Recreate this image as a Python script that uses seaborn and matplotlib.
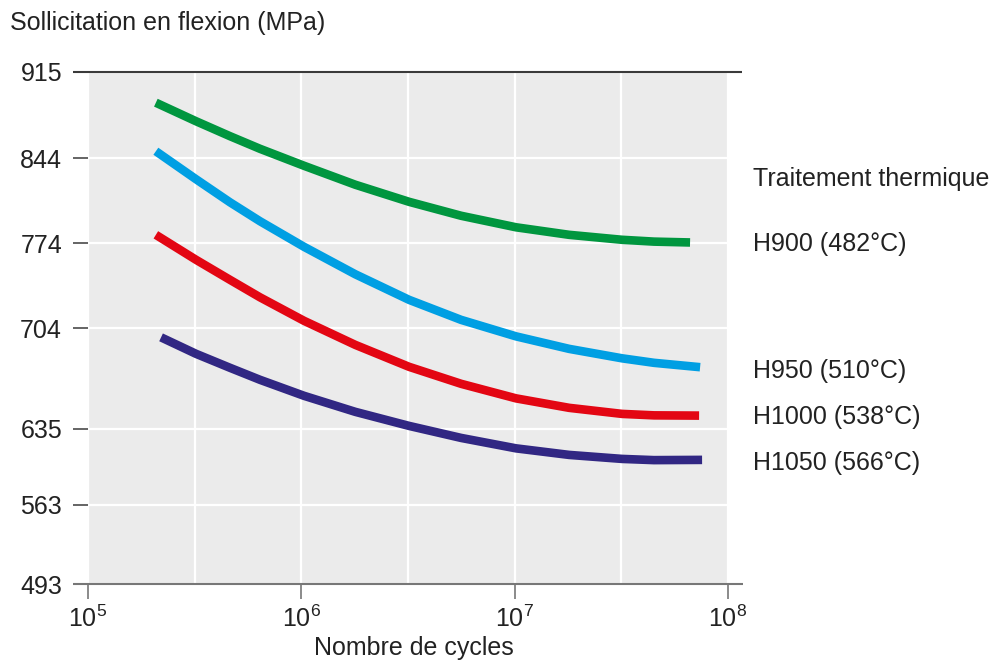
import matplotlib
matplotlib.use("Agg")
import matplotlib.pyplot as plt
import numpy as np
import pandas as pd
import seaborn as sns
from matplotlib.ticker import FixedLocator, FixedFormatter

# ---------------- data ----------------
treatments = ["H900 (482°C)", "H950 (510°C)", "H1000 (538°C)", "H1050 (566°C)"]
colors = ["#00963f", "#009fe3", "#e30613", "#312783"]

cycles_h900 = [2.08e5, 3.21e5, 4.63e5, 6.4e5, 1.03e6, 1.79e6, 3.2e6, 5.61e6,
               1.015e7, 1.8e7, 3.19e7, 4.5e7, 6.64e7]
mpa_h900 = [889.7, 874.4, 862.1, 851.7, 837.7, 822.1, 808.0, 796.5,
            787.0, 780.8, 776.7, 775.2, 774.5]

cycles_h950 = [2.08e5, 3.21e5, 4.63e5, 6.4e5, 1.03e6, 1.79e6, 3.2e6, 5.61e6,
               1.015e7, 1.8e7, 3.19e7, 4.5e7, 7.4e7]
mpa_h950 = [849.7, 826.6, 807.6, 792.0, 770.9, 748.3, 727.2, 710.7,
            697.1, 686.8, 679.0, 675.3, 671.7]

cycles_h1000 = [2.08e5, 3.21e5, 4.63e5, 6.4e5, 1.03e6, 1.79e6, 3.2e6, 5.61e6,
                1.015e7, 1.8e7, 3.19e7, 4.5e7, 7.32e7]
mpa_h1000 = [780.8, 760.2, 743.7, 729.3, 709.9, 690.1, 672.0, 658.0,
             646.0, 638.2, 633.2, 632.0, 631.8]

cycles_h1050 = [2.2e5, 3.21e5, 4.63e5, 6.4e5, 1.03e6, 1.79e6, 3.2e6, 5.61e6,
                1.015e7, 1.8e7, 3.19e7, 4.5e7, 7.56e7]
mpa_h1050 = [696.3, 682.7, 671.2, 661.3, 648.1, 634.9, 623.3, 613.4,
             604.8, 599.4, 596.1, 595.1, 595.3]

ytick_labels = ["915", "844", "774", "704", "635", "563", "493"]
ytick_pos = [915, 844, 774, 704, 620.8, 558.2, 493]   # as placed on the reference axis
xtick_vals = [1e5, 1e6, 1e7, 1e8]
xtick_labels = [r"$\mathregular{10^{5}}$", r"$\mathregular{10^{6}}$",
                r"$\mathregular{10^{7}}$", r"$\mathregular{10^{8}}$"]
xminor_vals = [10 ** 5.5, 10 ** 6.5, 10 ** 7.5]

title_text = "Sollicitation en flexion (MPa)"
xlabel_text = "Nombre de cycles"
legend_title = "Traitement thermique"

# ---------------- build table ----------------
series = [(cycles_h900, mpa_h900), (cycles_h950, mpa_h950),
          (cycles_h1000, mpa_h1000), (cycles_h1050, mpa_h1050)]
frames = []
for name, (cx, cy) in zip(treatments, series):
    frames.append(pd.DataFrame({"cycles": cx, "mpa": cy, "treatment": name}))
df = pd.concat(frames, ignore_index=True)

# ---------------- style ----------------
sns.set_style("darkgrid", {"axes.facecolor": "#ebebeb", "grid.color": "white"})
plt.rcParams["font.family"] = ["Liberation Sans", "DejaVu Sans"]
plt.rcParams["mathtext.fontset"] = "custom"
plt.rcParams["mathtext.rm"] = "Liberation Sans"
plt.rcParams["mathtext.it"] = "Liberation Sans:italic"
plt.rcParams["mathtext.bf"] = "Liberation Sans:bold"

TXT = "#222222"
W, H = 1004, 663
fig = plt.figure(figsize=(W / 100, H / 100), dpi=100)
fig.patch.set_facecolor("white")

# axes data area: x 88..728 px, y 72..584 px
ax = fig.add_axes([88 / W, 1 - 584 / H, 640 / W, 512 / H])
ax.set_facecolor("#ebebeb")

sns.lineplot(data=df, x="cycles", y="mpa", hue="treatment", hue_order=treatments,
             palette=colors, linewidth=6.2, legend=False, sort=False,
             estimator=None, ax=ax, solid_capstyle="butt", solid_joinstyle="round")

ax.set_xscale("log")
ax.set_xlim(1e5, 1e8)
ax.set_ylim(493, 915)

ax.xaxis.set_major_locator(FixedLocator(xtick_vals))
ax.xaxis.set_major_formatter(FixedFormatter(xtick_labels))
ax.xaxis.set_minor_locator(FixedLocator(xminor_vals))
ax.yaxis.set_major_locator(FixedLocator(ytick_pos))
ax.yaxis.set_major_formatter(FixedFormatter(ytick_labels))
ax.yaxis.set_minor_locator(FixedLocator([]))

ax.grid(True, which="both", color="white", linewidth=1.6)
ax.set_axisbelow(True)

ax.tick_params(axis="both", which="major", direction="out", length=10.8, width=1.2,
               color="#4a4a4a", labelsize=18, labelcolor=TXT)
ax.tick_params(axis="x", which="major", pad=5, color="#777777")
ax.tick_params(axis="y", which="major", pad=7.9)
ax.tick_params(axis="both", which="minor", length=0)
ax.tick_params(bottom=True, left=True, top=False, right=False)

for s in ax.spines.values():
    s.set_visible(False)

# top and bottom frame lines extending beyond the plotting area
ax.plot([-15 / 640, 1 + 14 / 640], [1, 1], transform=ax.transAxes, clip_on=False,
        color="#3a3a3a", linewidth=1.5, solid_capstyle="butt")
ax.plot([-15 / 640, 1 + 15 / 640], [0, 0], transform=ax.transAxes, clip_on=False,
        color="#777777", linewidth=1.5, solid_capstyle="butt")

ax.set_xlabel(xlabel_text, fontsize=18, color=TXT, va="baseline")
ax.xaxis.set_label_coords((413.5 - 88) / 640, -(655 - 584) / 512)
ax.set_ylabel(title_text, fontsize=18, color=TXT, rotation=0, ha="left", va="baseline")
ax.yaxis.set_label_coords((10 - 88) / 640, (584 - 30) / 512)


def px(x, y):
    return x / W, 1 - y / H


fig.text(*px(753, 186), legend_title, fontsize=18, color=TXT, va="baseline", ha="left")
label_baselines = [251, 378, 424, 470]
for name, yb in zip(treatments, label_baselines):
    fig.text(*px(753, yb), name, fontsize=18, color=TXT, va="baseline", ha="left")

fig.savefig("out.png", dpi=100, facecolor="white")
